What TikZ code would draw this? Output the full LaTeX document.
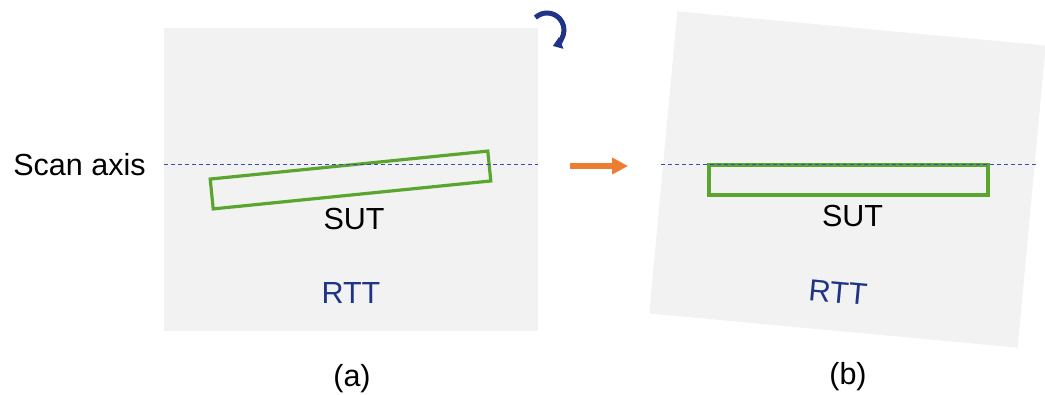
\documentclass[tikz,border=0pt]{standalone}
\usepackage{fontspec}
\setmainfont{Liberation Sans}
\usetikzlibrary{arrows.meta}
\definecolor{panelgray}{HTML}{F2F2F2}
\definecolor{sutgreen}{HTML}{5AA52E}
\definecolor{rttblue}{HTML}{1F3487}
\definecolor{axisblue}{HTML}{3A4CB8}
\definecolor{arroworange}{HTML}{ED7D31}
\tikzset{
	lbl/.style={font=\fontsize{30.5pt}{36pt}\selectfont, inner sep=0pt},
	sutbox/.style={draw=sutgreen, line width=3.2pt, line join=miter},
	scanline/.style={draw=axisblue, line width=1pt, dash pattern=on 4pt off 3pt}
}
\begin{document}
\begin{tikzpicture}[x=1pt, y=1pt]
		\useasboundingbox (0,0) rectangle (1045,394);
		\fill[panelgray] (164,63) rectangle (538,366);
		\fill[panelgray, shift={(847.5,214.5)}, rotate=-5.3] (-185,-151.75) rectangle (185,151.75);
		\draw[sutbox, shift={(350.5,214)}, rotate=5.75] (-139.5,-15) rectangle (139.5,15);
		\draw[sutbox] (709,199) rectangle (988,229);
		\coordinate (axisAl) at (164,229);
		\coordinate (axisAr) at (538,229);
		\coordinate (axisBl) at (661,229);
		\coordinate (axisBr) at (1037,229);
		\draw[scanline] (axisAl) -- (axisAr);
		\draw[scanline] (axisBl) -- (axisBr);
		\node[lbl, anchor=base] (scanlbl) at (79.5,218) {Scan axis};
		\node[lbl, anchor=base] (sutA) at (354,164) {SUT};
		\node[lbl, anchor=base] (sutB) at (852.5,167) {SUT};
		\node[lbl, anchor=base, text=rttblue] (rttA) at (351,90) {RTT};
		\node[lbl, text=rttblue, rotate=-5.3] (rttB) at (838,101.5) {RTT};
		\node[lbl, anchor=base] (capA) at (352,7.5) {(a)};
		\node[lbl, anchor=base] (capB) at (848,10) {(b)};
		\coordinate (shiftS) at (570,228);
		\coordinate (shiftE) at (628,228);
		\draw[arroworange, line width=6.5pt, -{Triangle[length=16pt, width=16pt]}] (shiftS) -- (shiftE);
		\coordinate (rotc) at (547,364);
		\draw[rttblue, line width=5pt, -{Triangle[length=9pt, width=12pt]}] ([shift={(133:17)}]rotc) arc[start angle=133, end angle=-70, radius=17];
	\end{tikzpicture}
\end{document}
